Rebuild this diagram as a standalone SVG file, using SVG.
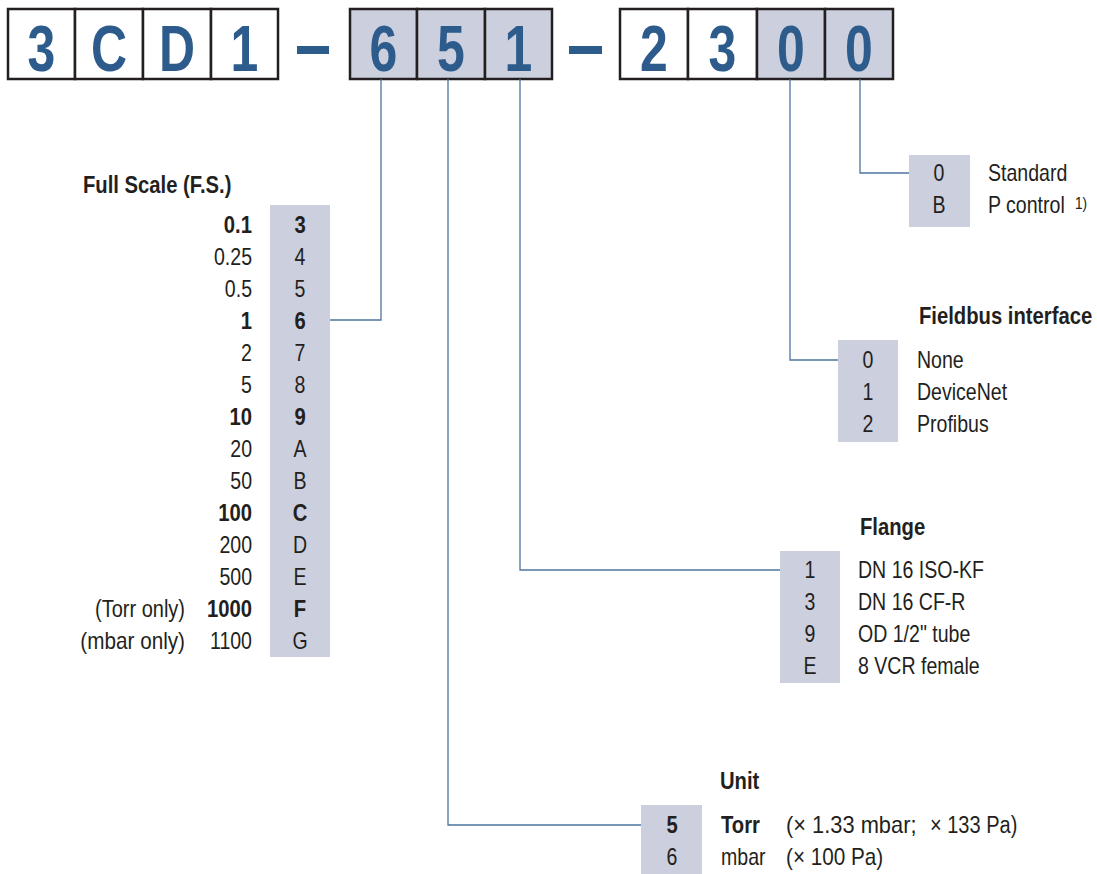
<svg xmlns="http://www.w3.org/2000/svg" width="1097" height="874" viewBox="0 0 1097 874">
<style>
.cell{stroke:#231f20;stroke-width:2.5}
.w{fill:#ffffff}
.g{fill:#cccfdd}
.dig{font-family:"Liberation Sans",Arial,sans-serif;font-weight:bold;font-size:64px;fill:#2c5b8c;text-anchor:middle}
.t{font-family:"Liberation Sans",Arial,sans-serif;font-size:23px;fill:#231f20}
.sup{font-size:16px}
.b{font-weight:bold}
.m{text-anchor:middle}
.r{text-anchor:end}
.box{fill:#cccfdd}
.con{fill:none;stroke:#4f74a0;stroke-width:1.3}
.dash{fill:#2c5b8c}
</style>
<rect width="1097" height="874" fill="#ffffff"/>
<g id="code">
  <rect class="cell w" x="8" y="9" width="67" height="70"/>
  <rect class="cell w" x="75" y="9" width="68" height="70"/>
  <rect class="cell w" x="143" y="9" width="68" height="70"/>
  <rect class="cell w" x="211" y="9" width="67" height="70"/>
  <rect class="dash" x="297" y="46" width="32" height="8"/>
  <rect class="cell g" x="350" y="9" width="67" height="70"/>
  <rect class="cell g" x="417" y="9" width="68" height="70"/>
  <rect class="cell g" x="485" y="9" width="67" height="70"/>
  <rect class="dash" x="569" y="46" width="33" height="8"/>
  <rect class="cell w" x="620" y="9" width="68" height="70"/>
  <rect class="cell w" x="688" y="9" width="69" height="70"/>
  <rect class="cell g" x="757" y="9" width="68" height="70"/>
  <rect class="cell g" x="825" y="9" width="68" height="70"/>
  <text class="dig" transform="translate(41.5,71) scale(0.78,1)">3</text>
  <text class="dig" transform="translate(109,71) scale(0.78,1)">C</text>
  <text class="dig" transform="translate(177,71) scale(0.78,1)">D</text>
  <text class="dig" transform="translate(244.5,71) scale(0.78,1)">1</text>
  <text class="dig" transform="translate(383.5,71) scale(0.78,1)">6</text>
  <text class="dig" transform="translate(451,71) scale(0.78,1)">5</text>
  <text class="dig" transform="translate(518.5,71) scale(0.78,1)">1</text>
  <text class="dig" transform="translate(654,71) scale(0.78,1)">2</text>
  <text class="dig" transform="translate(722.5,71) scale(0.78,1)">3</text>
  <text class="dig" transform="translate(791,71) scale(0.78,1)">0</text>
  <text class="dig" transform="translate(859,71) scale(0.78,1)">0</text>
</g>
<g id="connectors">
  <polyline class="con" points="381,79 381,320 330,320"/>
  <polyline class="con" points="448,79 448,825 641,825"/>
  <polyline class="con" points="520,79 520,570 780,570"/>
  <polyline class="con" points="790,79 790,360 838,360"/>
  <polyline class="con" points="860,79 860,173 909,173"/>
</g>
<g id="fullscale">
  <text class="t b" transform="translate(83,193) scale(0.88,1)">Full Scale (F.S.)</text>
  <rect class="box" x="270" y="205" width="60" height="452"/>
  <text class="t r b" transform="translate(252,233) scale(0.88,1)">0.1</text><text class="t m b" transform="translate(300,233) scale(0.88,1)">3</text>
  <text class="t r" transform="translate(252,265) scale(0.85,1)">0.25</text><text class="t m" transform="translate(300,265) scale(0.85,1)">4</text>
  <text class="t r" transform="translate(252,297) scale(0.85,1)">0.5</text><text class="t m" transform="translate(300,297) scale(0.85,1)">5</text>
  <text class="t r b" transform="translate(252,329) scale(0.88,1)">1</text><text class="t m b" transform="translate(300,329) scale(0.88,1)">6</text>
  <text class="t r" transform="translate(252,361) scale(0.85,1)">2</text><text class="t m" transform="translate(300,361) scale(0.85,1)">7</text>
  <text class="t r" transform="translate(252,393) scale(0.85,1)">5</text><text class="t m" transform="translate(300,393) scale(0.85,1)">8</text>
  <text class="t r b" transform="translate(252,425) scale(0.88,1)">10</text><text class="t m b" transform="translate(300,425) scale(0.88,1)">9</text>
  <text class="t r" transform="translate(252,457) scale(0.85,1)">20</text><text class="t m" transform="translate(300,457) scale(0.85,1)">A</text>
  <text class="t r" transform="translate(252,489) scale(0.85,1)">50</text><text class="t m" transform="translate(300,489) scale(0.85,1)">B</text>
  <text class="t r b" transform="translate(252,521) scale(0.88,1)">100</text><text class="t m b" transform="translate(300,521) scale(0.88,1)">C</text>
  <text class="t r" transform="translate(252,553) scale(0.85,1)">200</text><text class="t m" transform="translate(300,553) scale(0.85,1)">D</text>
  <text class="t r" transform="translate(252,585) scale(0.85,1)">500</text><text class="t m" transform="translate(300,585) scale(0.85,1)">E</text>
  <text class="t r" transform="translate(185,617) scale(0.87,1)">(Torr only)</text><text class="t r b" transform="translate(252,617) scale(0.88,1)">1000</text><text class="t m b" transform="translate(300,617) scale(0.88,1)">F</text>
  <text class="t r" transform="translate(185,649) scale(0.9,1)">(mbar only)</text><text class="t r" transform="translate(252,649) scale(0.85,1)">1100</text><text class="t m" transform="translate(300,649) scale(0.85,1)">G</text>
</g>
<g id="control">
  <rect class="box" x="909" y="155" width="61" height="72"/>
  <text class="t m" transform="translate(939,181) scale(0.85,1)">0</text><text class="t" transform="translate(988,181) scale(0.85,1)">Standard</text>
  <text class="t m" transform="translate(939,213) scale(0.85,1)">B</text><text class="t" transform="translate(988,213) scale(0.85,1)">P control</text>
  <text class="t sup" transform="translate(1075,209) scale(0.85,1)">1)</text>
</g>
<g id="fieldbus">
  <text class="t b" transform="translate(919,324) scale(0.88,1)">Fieldbus interface</text>
  <rect class="box" x="838" y="340" width="60" height="102"/>
  <text class="t m" transform="translate(868,368) scale(0.85,1)">0</text><text class="t" transform="translate(917,368) scale(0.85,1)">None</text>
  <text class="t m" transform="translate(868,400) scale(0.85,1)">1</text><text class="t" transform="translate(917,400) scale(0.85,1)">DeviceNet</text>
  <text class="t m" transform="translate(868,432) scale(0.85,1)">2</text><text class="t" transform="translate(917,432) scale(0.85,1)">Profibus</text>
</g>
<g id="flange">
  <text class="t b" transform="translate(860,535) scale(0.88,1)">Flange</text>
  <rect class="box" x="780" y="551" width="60" height="132"/>
  <text class="t m" transform="translate(810,578) scale(0.85,1)">1</text><text class="t" transform="translate(858,578) scale(0.85,1)">DN 16 ISO-KF</text>
  <text class="t m" transform="translate(810,610) scale(0.85,1)">3</text><text class="t" transform="translate(858,610) scale(0.85,1)">DN 16 CF-R</text>
  <text class="t m" transform="translate(810,642) scale(0.85,1)">9</text><text class="t" transform="translate(858,642) scale(0.85,1)">OD 1/2" tube</text>
  <text class="t m" transform="translate(810,674) scale(0.85,1)">E</text><text class="t" transform="translate(858,674) scale(0.85,1)">8 VCR female</text>
</g>
<g id="unit">
  <text class="t b" transform="translate(720,789) scale(0.88,1)">Unit</text>
  <rect class="box" x="641" y="805" width="61" height="69"/>
  <text class="t m b" transform="translate(672,833) scale(0.88,1)">5</text><text class="t b" transform="translate(721,833) scale(0.88,1)">Torr</text>
  <text class="t" transform="translate(786,833) scale(0.95,1)">(× 1.33 mbar;</text><text class="t" transform="translate(930,833) scale(0.87,1)">× 133 Pa)</text>
  <text class="t m" transform="translate(672,865) scale(0.85,1)">6</text><text class="t" transform="translate(721,865) scale(0.85,1)">mbar</text>
  <text class="t" transform="translate(786,865) scale(0.9,1)">(× 100 Pa)</text>
</g>
</svg>
